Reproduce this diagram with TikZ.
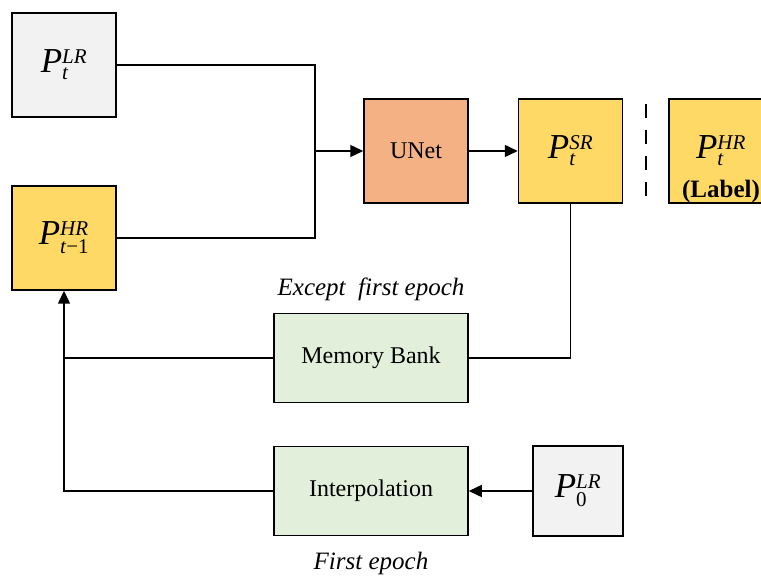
\documentclass[tikz,border=0pt]{standalone}
\usepackage{amsmath}
\usepackage{fontspec}
\setmainfont{Liberation Serif}
\usetikzlibrary{arrows.meta,positioning,calc}
\definecolor{lrgray}{HTML}{F2F2F2}
\definecolor{hryellow}{HTML}{FFD966}
\definecolor{unetorange}{HTML}{F4B183}
\definecolor{bankgreen}{HTML}{E2EFDA}
\tikzset{
  patch/.style={draw, line width=1.5pt, minimum width=104pt, minimum height=104pt, inner sep=0pt, font=\fontsize{35}{38}\selectfont},
  block/.style={draw, line width=1.5pt, minimum width=194pt, minimum height=89pt, inner sep=0pt, fill=bankgreen, font=\fontsize{24}{28}\selectfont},
  edge/.style={-{Triangle[length=13pt,width=12pt]}, line width=1.5pt},
  wire/.style={line width=1.5pt},
  note/.style={font=\fontsize{25}{28}\selectfont\itshape}
}
\newcommand{\scr}[1]{\text{\fontsize{21}{22}\selectfont #1}}
\newcommand{\patchname}[2]{\textit{P}$^{\scr{\itshape #1}}_{\scr{#2}}$}

\begin{document}
\begin{tikzpicture}[x=1pt, y=-1pt]
\useasboundingbox (0,0) rectangle (761,577);
\node[patch, fill=lrgray] (ptlr) at (64,65) {\patchname{LR}{\itshape t}};
\node[patch, fill=hryellow] (ptprev) at (64,238) {\patchname{HR}{\textit{t}−1}};
\node[patch, fill=unetorange, font=\fontsize{24}{28}\selectfont] (unet) at (416,151) {UNet};
\node[patch, fill=hryellow, right=49pt of unet] (ptsr) {\patchname{SR}{\itshape t}};
\node[patch, fill=hryellow, right=45pt of ptsr,
  label={[anchor=south, inner sep=1pt, font=\fontsize{25}{28}\selectfont\bfseries]south:(Label)}] (hrlabel) {\patchname{HR}{\itshape t}};
\node[block] (memory) at (371,358) {Memory Bank};
\node[block] (interp) at (371,491) {Interpolation};
\node[patch, fill=lrgray, minimum width=90pt, minimum height=90pt] (p0) at (578,491) {\patchname{LR}{0}};
\node[note, above=8pt of memory] (exceptnote) {Except~ first epoch};
\node[note, below=12pt of interp] (firstnote) {First epoch};
\coordinate (join) at (315,151);

\draw[wire] (ptlr.east) -| (join) |- (ptprev.east);
\draw[edge] (join) -- (unet);
\draw[edge] (unet) -- (ptsr);
\draw[wire, dash pattern=on 14pt off 12pt] ($(ptsr.east)!0.5!(hrlabel.west)$) ++(0,-47) -- ++(0,94);
\draw[wire] (ptsr.south) |- (memory.east);
\draw[wire] (memory.west) -- (memory.west -| ptprev.south);
\draw[edge] (interp.west) -| (ptprev.south);
\draw[edge] (p0) -- (interp);
\end{tikzpicture}
\end{document}
